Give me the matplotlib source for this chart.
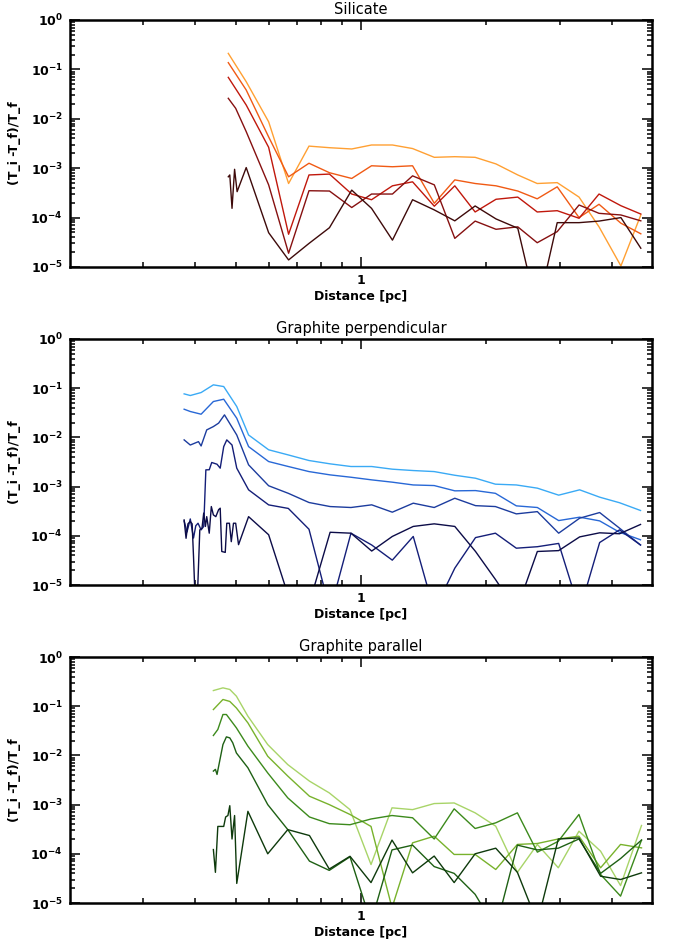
import math

import matplotlib
matplotlib.use("Agg")
import matplotlib.pyplot as plt
from matplotlib.ticker import FixedLocator, NullFormatter, FuncFormatter

# ---------------- Silicate ----------------
SIL_X = [0.48, 0.53, 0.60, 0.67, 0.75, 0.84, 0.95, 1.06, 1.19, 1.33, 1.50,
         1.68, 1.88, 2.11, 2.38, 2.65, 2.96, 3.34, 3.73, 4.21, 4.70]
SIL_1 = [0.211, 0.0564, 8.7e-3, 4.9e-4, 2.8e-3, 2.6e-3, 2.45e-3, 2.95e-3, 2.95e-3,
         2.5e-3, 1.66e-3, 1.71e-3, 1.66e-3, 1.22e-3, 7.3e-4, 4.9e-4, 5.1e-4,
         2.6e-4, 6.5e-5, 1.05e-5, 1.13e-4]
SIL_2 = [0.137, 0.0383, 4.3e-3, 6.7e-4, 1.26e-3, 8.1e-4, 6.2e-4, 1.12e-3, 1.07e-3,
         1.12e-3, 1.95e-4, 5.8e-4, 4.9e-4, 4.4e-4, 3.45e-4, 2.4e-4, 4.2e-4,
         1.0e-4, 1.86e-4, 7.7e-5, 4.7e-5]
SIL_3 = [0.069, 0.019, 2.65e-3, 4.6e-5, 7.3e-4, 7.6e-4, 3.0e-4, 2.3e-4, 4.4e-4,
         5.3e-4, 1.7e-4, 4.4e-4, 1.3e-4, 2.35e-4, 2.6e-4, 1.3e-4, 1.38e-4,
         9.7e-5, 3.0e-4, 1.74e-4, 1.18e-4]
SIL_4_X = [0.48, 0.50, 0.53, 0.60, 0.67, 0.75, 0.84, 0.95, 1.06, 1.19, 1.33,
           1.50, 1.68, 1.88, 2.11, 2.38, 2.65, 2.96, 3.34, 3.73, 4.21, 4.70]
SIL_4 = [0.026, 0.0163, 5.5e-3, 4.6e-4, 1.9e-5, 3.5e-4, 3.45e-4, 1.6e-4, 3.0e-4,
         3.0e-4, 7.0e-4, 4.6e-4, 3.8e-5, 8.5e-5, 5.8e-5, 6.5e-5, 3.1e-5, 5.2e-5,
         1.8e-4, 1.22e-4, 1.13e-4, 8.6e-5]
SIL_5_X = [0.48, 0.484, 0.49, 0.497, 0.504, 0.53, 0.60, 0.67, 0.75, 0.84, 0.95,
           1.06, 1.19, 1.33, 1.50, 1.68, 1.88, 2.11, 2.38, 2.65, 2.96, 3.34,
           3.73, 4.21, 4.70]
SIL_5 = [6.7e-4, 7.3e-4, 1.54e-4, 9.5e-4, 3.35e-4, 1.03e-3, 4.95e-5, 1.39e-5,
         3.0e-5, 6.25e-5, 3.6e-4, 1.54e-4, 3.5e-5, 2.3e-4, 1.43e-4, 8.6e-5,
         1.72e-4, 9.4e-5, 6.1e-5, 1.3e-6, 7.9e-5, 7.9e-5, 8.5e-5, 1.0e-4, 2.4e-5]

# ---------------- Graphite perpendicular ----------------
PER_X = [0.376, 0.389, 0.413, 0.442, 0.468, 0.503, 0.537, 0.600, 0.669, 0.750,
         0.843, 0.946, 1.061, 1.189, 1.335, 1.499, 1.680, 1.884, 2.103, 2.361,
         2.652, 2.984, 3.351, 3.743, 4.178, 4.692]
PER_1 = [0.0767, 0.071, 0.0816, 0.117, 0.108, 0.0424, 0.0112, 5.6e-3, 4.4e-3,
         3.39e-3, 2.9e-3, 2.56e-3, 2.56e-3, 2.26e-3, 2.12e-3, 2.02e-3, 1.7e-3,
         1.48e-3, 1.12e-3, 1.08e-3, 9.3e-4, 6.7e-4, 8.6e-4, 6.1e-4, 4.7e-4, 3.27e-4]
PER_2 = [0.0374, 0.0336, 0.0296, 0.0536, 0.0597, 0.0245, 6.5e-3, 3.23e-3, 2.56e-3,
         2.02e-3, 1.73e-3, 1.55e-3, 1.37e-3, 1.23e-3, 1.08e-3, 1.05e-3, 8.2e-4,
         8.3e-4, 7.3e-4, 4.06e-4, 3.76e-4, 2.04e-4, 2.39e-4, 2.01e-4, 1.18e-4, 8.3e-5]
PER_3_X = [0.376, 0.389, 0.407, 0.413, 0.426, 0.442, 0.455, 0.470, 0.503, 0.537,
           0.600, 0.669, 0.750, 0.843, 0.946, 1.061, 1.189, 1.335, 1.499, 1.680,
           1.884, 2.103, 2.361, 2.652, 2.984, 3.351, 3.743, 4.178, 4.692]
PER_3 = [8.9e-3, 7.0e-3, 8.2e-3, 6.7e-3, 0.0142, 0.0166, 0.0195, 0.0287, 0.0112,
         2.77e-3, 1.04e-3, 7.3e-4, 4.75e-4, 3.93e-4, 3.76e-4, 4.26e-4, 3.02e-4,
         4.6e-4, 3.76e-4, 5.8e-4, 4.1e-4, 3.93e-4, 2.79e-4, 3.1e-4, 1.13e-4,
         2.28e-4, 2.97e-4, 1.43e-4, 6.5e-5]
PER_4_X = [0.376, 0.382, 0.389, 0.396, 0.401, 0.406, 0.413, 0.419, 0.424, 0.432,
           0.438, 0.451, 0.459, 0.468, 0.476, 0.490, 0.503, 0.537, 0.600, 0.669,
           0.750, 0.843, 0.946, 1.061, 1.189, 1.335, 1.499, 1.680, 1.884, 2.103,
           2.361, 2.652, 2.984, 3.351, 3.743, 4.178, 4.692]
PER_4 = [2.0e-4, 1.2e-4, 2.2e-4, 9.0e-5, 1.6e-4, 1.8e-4, 1.32e-4, 1.55e-4, 2.19e-3,
         2.2e-3, 3.09e-3, 2.85e-3, 2.37e-3, 6.5e-3, 8.9e-3, 7.0e-3, 2.37e-3,
         8.6e-4, 4.25e-4, 3.6e-4, 1.36e-4, 3.0e-6, 1.13e-4, 6.5e-5, 3.2e-5,
         9.7e-5, 3.0e-6, 2.2e-5, 9.2e-5, 1.13e-4, 5.6e-5, 6.0e-5, 7.0e-5, 3.0e-6,
         7.3e-5, 1.32e-4, 6.5e-5]
PER_5_X = [0.376, 0.380, 0.384, 0.389, 0.393, 0.396, 0.400, 0.404, 0.410, 0.415,
           0.419, 0.423, 0.426, 0.432, 0.437, 0.442, 0.448, 0.455, 0.459, 0.463,
           0.472, 0.476, 0.483, 0.488, 0.494, 0.500, 0.508, 0.537, 0.600, 0.669,
           0.750, 0.843, 0.946, 1.061, 1.189, 1.335, 1.499, 1.680, 1.884, 2.103,
           2.361, 2.652, 2.984, 3.351, 3.743, 4.178, 4.692]
PER_5 = [2.1e-4, 8.9e-5, 1.75e-4, 1.95e-4, 1.75e-4, 3.8e-5, 4.0e-6, 4.0e-6,
         1.32e-4, 1.43e-4, 2.9e-4, 1.55e-4, 2.45e-4, 1.13e-4, 3.93e-4, 2.66e-4,
         2.45e-4, 3.4e-4, 3.64e-4, 4.8e-5, 4.6e-5, 1.8e-4, 1.8e-4, 7.6e-5, 1.8e-4,
         1.8e-4, 6.6e-5, 2.45e-4, 1.05e-4, 6.0e-6, 4.0e-6, 1.18e-4, 1.13e-4,
         4.9e-5, 9.7e-5, 1.55e-4, 1.75e-4, 1.55e-4, 4.8e-5, 1.3e-5, 3.0e-6,
         4.8e-5, 5.0e-5, 9.5e-5, 1.15e-4, 1.1e-4, 1.7e-4]

# ---------------- Graphite parallel ----------------
PAR_X = [0.442, 0.466, 0.484, 0.502, 0.535, 0.597, 0.667, 0.752, 0.839, 0.941,
         1.057, 1.187, 1.330, 1.499, 1.674, 1.880, 2.107, 2.375, 2.652, 2.978,
         3.338, 3.763, 4.202, 4.718]
PAR_1 = [0.208, 0.236, 0.219, 0.16, 0.0626, 0.0166, 6.5e-3, 3.0e-3, 1.73e-3,
         7.9e-4, 6.05e-5, 8.6e-4, 7.9e-4, 1.05e-3, 1.08e-3, 6.8e-4, 3.64e-4,
         4.2e-5, 1.55e-4, 5.2e-5, 2.88e-4, 1.13e-4, 2.26e-5, 3.76e-4]
PAR_2 = [0.0855, 0.137, 0.125, 0.092, 0.0458, 9.6e-3, 3.8e-3, 1.48e-3, 1.0e-3,
         6.3e-4, 3.6e-4, 8.0e-6, 1.67e-4, 2.28e-4, 9.7e-5, 9.7e-5, 4.8e-5,
         1.55e-4, 1.62e-4, 2.0e-4, 2.28e-4, 5.2e-5, 1.55e-4, 1.32e-4]
PAR_3_X = [0.442, 0.453, 0.466, 0.475, 0.502, 0.535, 0.597, 0.667, 0.752, 0.839,
           0.941, 1.057, 1.187, 1.330, 1.499, 1.674, 1.880, 2.107, 2.375, 2.652,
           2.978, 3.338, 3.763, 4.202, 4.718]
PAR_3 = [0.0254, 0.0336, 0.0678, 0.0678, 0.0363, 0.0154, 4.4e-3, 1.37e-3, 5.6e-4,
         4.1e-4, 3.9e-4, 5.1e-4, 6.0e-4, 5.4e-4, 2.0e-4, 8.2e-4, 3.27e-4, 4.26e-4,
         6.8e-4, 1.08e-4, 1.8e-4, 6.3e-4, 3.8e-5, 1.38e-5, 1.9e-4]
PAR_4_X = [0.442, 0.447, 0.451, 0.466, 0.475, 0.484, 0.492, 0.502, 0.535, 0.597,
           0.667, 0.752, 0.839, 0.941, 1.057, 1.187, 1.330, 1.499, 1.674, 1.880,
           2.107, 2.375, 2.652, 2.978, 3.338, 3.763, 4.202, 4.718]
PAR_4 = [4.8e-3, 5.2e-3, 4.1e-3, 0.0166, 0.0238, 0.0227, 0.018, 0.0112, 5.6e-3,
         1.0e-3, 3.1e-4, 7.1e-5, 4.6e-5, 8.7e-5, 4.0e-6, 1.2e-4, 1.5e-4, 5.5e-5,
         4.0e-5, 1.5e-5, 3.0e-6, 1.5e-4, 1.2e-4, 1.3e-4, 2.0e-4, 4.0e-5, 8.0e-5,
         1.9e-4]
PAR_5_X = [0.442, 0.447, 0.453, 0.462, 0.468, 0.473, 0.479, 0.484, 0.490, 0.497,
           0.503, 0.535, 0.597, 0.667, 0.752, 0.839, 0.941, 1.057, 1.187, 1.330,
           1.499, 1.674, 1.880, 2.107, 2.375, 2.652, 2.978, 3.338, 3.763, 4.202,
           4.718]
PAR_5 = [1.22e-4, 4.2e-5, 3.6e-4, 3.6e-4, 3.6e-4, 5.6e-4, 6.0e-4, 9.5e-4, 2.0e-4,
         6.0e-4, 2.5e-5, 7.3e-4, 1.0e-4, 3.1e-4, 2.35e-4, 4.9e-5, 8.9e-5, 2.6e-5,
         1.9e-4, 4.1e-5, 9.0e-5, 2.6e-5, 1.0e-4, 1.3e-4, 4.2e-5, 4.0e-6, 2.0e-4,
         2.1e-4, 3.5e-5, 3.0e-5, 4.1e-5]

PANELS = [
    ("Silicate",
     [(SIL_X, SIL_1), (SIL_X, SIL_2), (SIL_X, SIL_3), (SIL_4_X, SIL_4), (SIL_5_X, SIL_5)],
     ["#ffa033", "#f05a14", "#c0180c", "#861010", "#3e0a0a"]),
    ("Graphite perpendicular",
     [(PER_X, PER_1), (PER_X, PER_2), (PER_3_X, PER_3), (PER_4_X, PER_4), (PER_5_X, PER_5)],
     ["#3aaaf5", "#2868d6", "#1c3c9e", "#141e78", "#0c0c48"]),
    ("Graphite parallel",
     [(PAR_X, PAR_1), (PAR_X, PAR_2), (PAR_3_X, PAR_3), (PAR_4_X, PAR_4), (PAR_5_X, PAR_5)],
     ["#a8d468", "#78b22c", "#3c8a1c", "#1e6014", "#0e3a0c"]),
]

W, H = 676, 947
fig = plt.figure(figsize=(W / 100, H / 100), dpi=100)

# panel boxes in pixels: (top, bottom)
BOXES = [(20, 267), (339, 585), (657, 903)]
LEFT, RIGHT = 70, 652


def ylab(v, pos):
    e = int(round(math.log10(v)))
    return r"$\mathbf{10^{%d}}$" % e


for (title, series, colors), (top, bot) in zip(PANELS, BOXES):
    ax = fig.add_axes([LEFT / W, 1 - bot / H, (RIGHT - LEFT) / W, (bot - top) / H])
    for (xs, ys), c in zip(series, colors):
        ax.plot(xs, ys, color=c, lw=1.0)
    ax.set_xscale("log")
    ax.set_yscale("log")
    ax.set_xlim(0.2, 5.0)
    ax.set_ylim(1e-5, 1.0)

    ax.xaxis.set_major_locator(FixedLocator([1.0]))
    ax.xaxis.set_minor_locator(FixedLocator([0.3, 0.4, 0.5, 0.6, 0.7, 0.8, 0.9,
                                             2, 3, 4]))
    ax.xaxis.set_major_formatter(FuncFormatter(lambda v, p: "1"))
    ax.xaxis.set_minor_formatter(NullFormatter())
    ax.yaxis.set_major_formatter(FuncFormatter(ylab))
    ax.yaxis.set_minor_formatter(NullFormatter())

    ax.tick_params(which="both", direction="in", top=True, right=True,
                   width=1.1, labelsize=9)
    ax.tick_params(which="major", length=7, pad=5)
    ax.tick_params(which="minor", length=3.5)
    for lab in ax.get_xticklabels() + ax.get_yticklabels():
        lab.set_fontweight("bold")
    for sp in ax.spines.values():
        sp.set_linewidth(1.8)

    ax.set_title(title, fontsize=10.5, pad=4)
    ax.set_xlabel("Distance [pc]", fontsize=9, fontweight="bold", labelpad=2)
    ax.set_ylabel("(T_i -T_f)/T_f", fontsize=9, fontweight="bold", labelpad=7)

fig.savefig("out.png", dpi=100)
